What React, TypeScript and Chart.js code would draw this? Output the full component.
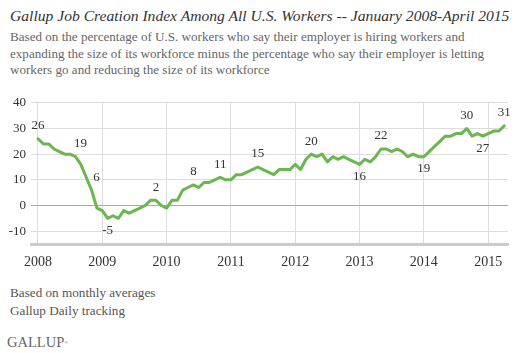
import React, { useEffect, useRef } from 'react';
import { Chart, registerables } from 'chart.js';
Chart.register(...registerables);

const years = ['2008', '2009', '2010', '2011', '2012', '2013', '2014', '2015'];
const v2008 = [26, 24, 24, 22, 21, 20, 20, 19, 16, 11, 6, -1];
const v2009 = [-2, -5, -4, -5, -2, -3, -2, -1, 0, 2, 2, 0];
const v2010 = [-1, 2, 2, 6, 7, 8, 7, 9, 9, 10, 11, 10];
const v2011 = [10, 12, 12, 13, 14, 15, 14, 13, 12, 14, 14, 14];
const v2012 = [16, 14, 18, 20, 19, 20, 17, 19, 18, 19, 18, 17];
const v2013 = [16, 18, 17, 19, 22, 22, 21, 22, 21, 19, 20, 19];
const v2014 = [19, 21, 23, 25, 27, 27, 28, 28, 30, 27, 28, 27];
const v2015 = [28, 29, 29, 31];
const values = [...v2008, ...v2009, ...v2010, ...v2011, ...v2012, ...v2013, ...v2014, ...v2015];

const yTicks = [-10, 0, 10, 20, 30, 40];
// labelled months (index into values) and where the label sits
const labelIdx = [0, 7, 10, 13, 22, 29, 34, 41, 51, 60, 64, 72, 80, 83, 87];
const labelPos = ['a', 'ar', 'ar', 'b', 'a', 'a', 'a', 'a', 'a', 'b', 'a', 'b', 'a', 'b', 'a'];

const SERIF = '"Liberation Serif", "DejaVu Serif", serif';

const labelPlugin = {
  id: 'pointLabels',
  afterDatasetsDraw(chart: any) {
    const ctx = chart.ctx;
    const meta = chart.getDatasetMeta(0);
    ctx.save();
    ctx.font = '13px ' + SERIF;
    ctx.fillStyle = '#333';
    ctx.textAlign = 'center';
    ctx.textBaseline = 'middle';
    labelIdx.forEach((idx, k) => {
      const pt = meta.data[idx];
      const pos = labelPos[k];
      let dx = 0;
      let dy = -13;
      if (pos === 'b') dy = 12;
      if (pos === 'ar') dx = 5;
      ctx.fillText(String(values[idx]), pt.x + dx, pt.y + dy);
    });
    ctx.restore();
  },
};

export default function App() {
  const ref = useRef<HTMLCanvasElement>(null);
  useEffect(() => {
    if (!ref.current) return;
    const chart = new Chart(ref.current, {
      type: 'line',
      data: {
        datasets: [
          {
            data: values.map((v, i) => ({ x: i, y: v })),
            borderColor: '#6ab64f',
            borderWidth: 3,
            pointRadius: 0,
            tension: 0,
            borderJoinStyle: 'round',
            borderCapStyle: 'round',
            fill: false,
          },
        ],
      },
      options: {
        animation: false,
        responsive: true,
        maintainAspectRatio: false,
        layout: { padding: { top: 12, right: 9, left: 0, bottom: 0 } },
        plugins: { legend: { display: false }, tooltip: { enabled: false } },
        scales: {
          x: {
            type: 'linear',
            min: -1.3,
            max: 87.7,
            afterBuildTicks: (s: any) => {
              s.ticks = years.map((_, i) => ({ value: i * 12 }));
            },
            ticks: {
              callback: (v: any) => years[Math.round(v / 12)],
              font: { family: SERIF, size: 14 },
              color: '#333',
              padding: 10,
              maxRotation: 0,
              autoSkip: false,
            },
            grid: { color: '#dddddd', drawTicks: false, lineWidth: 1 },
            border: { display: true, color: '#cccccc', width: 3 },
            afterFit: (s: any) => {
              s.height = 36;
            },
          },
          y: {
            min: -15,
            max: 40,
            afterBuildTicks: (s: any) => {
              s.ticks = yTicks.map((v) => ({ value: v }));
            },
            ticks: {
              font: { family: SERIF, size: 13 },
              color: '#333',
              padding: 5,
            },
            grid: {
              color: (c: any) => (c.tick && c.tick.value === 0 ? '#aaaaaa' : '#dddddd'),
              drawTicks: false,
              lineWidth: 1,
            },
            border: { display: false },
            afterFit: (s: any) => {
              s.width = 31;
            },
          },
        },
      },
      plugins: [labelPlugin],
    } as any);
    return () => chart.destroy();
  }, []);

  return (
    <div style={{ position: 'absolute', left: 0, top: 0, width: 517, height: 353, background: '#fff', fontFamily: SERIF, overflow: 'hidden' }}>
      <div style={{ position: 'absolute', left: 10, top: 6, fontSize: 15.6, lineHeight: '20px', fontStyle: 'italic', color: '#333', whiteSpace: 'nowrap' }}>
        Gallup Job Creation Index Among All U.S. Workers -- January 2008-April 2015
      </div>
      <div style={{ position: 'absolute', left: 10, top: 29, fontSize: 13.1, lineHeight: '16.5px', color: '#666', whiteSpace: 'nowrap' }}>
        Based on the percentage of U.S. workers who say their employer is hiring workers and
        <br />
        expanding the size of its workforce minus the percentage who say their employer is letting
        <br />
        workers go and reducing the size of its workforce
      </div>
      <div style={{ position: 'absolute', left: 0, top: 90, width: 517, height: 190 }}>
        <canvas ref={ref} />
      </div>
      <div style={{ position: 'absolute', left: 10, top: 284, fontSize: 13.2, lineHeight: '18.3px', color: '#555', whiteSpace: 'nowrap' }}>
        Based on monthly averages
        <br />
        Gallup Daily tracking
      </div>
      <div style={{ position: 'absolute', left: 7, top: 334, fontSize: 14.5, lineHeight: '17px', color: '#666', whiteSpace: 'nowrap' }}>
        GALLUP<sup style={{ fontSize: 5, verticalAlign: 'top' }}>®</sup>
      </div>
    </div>
  );
}
